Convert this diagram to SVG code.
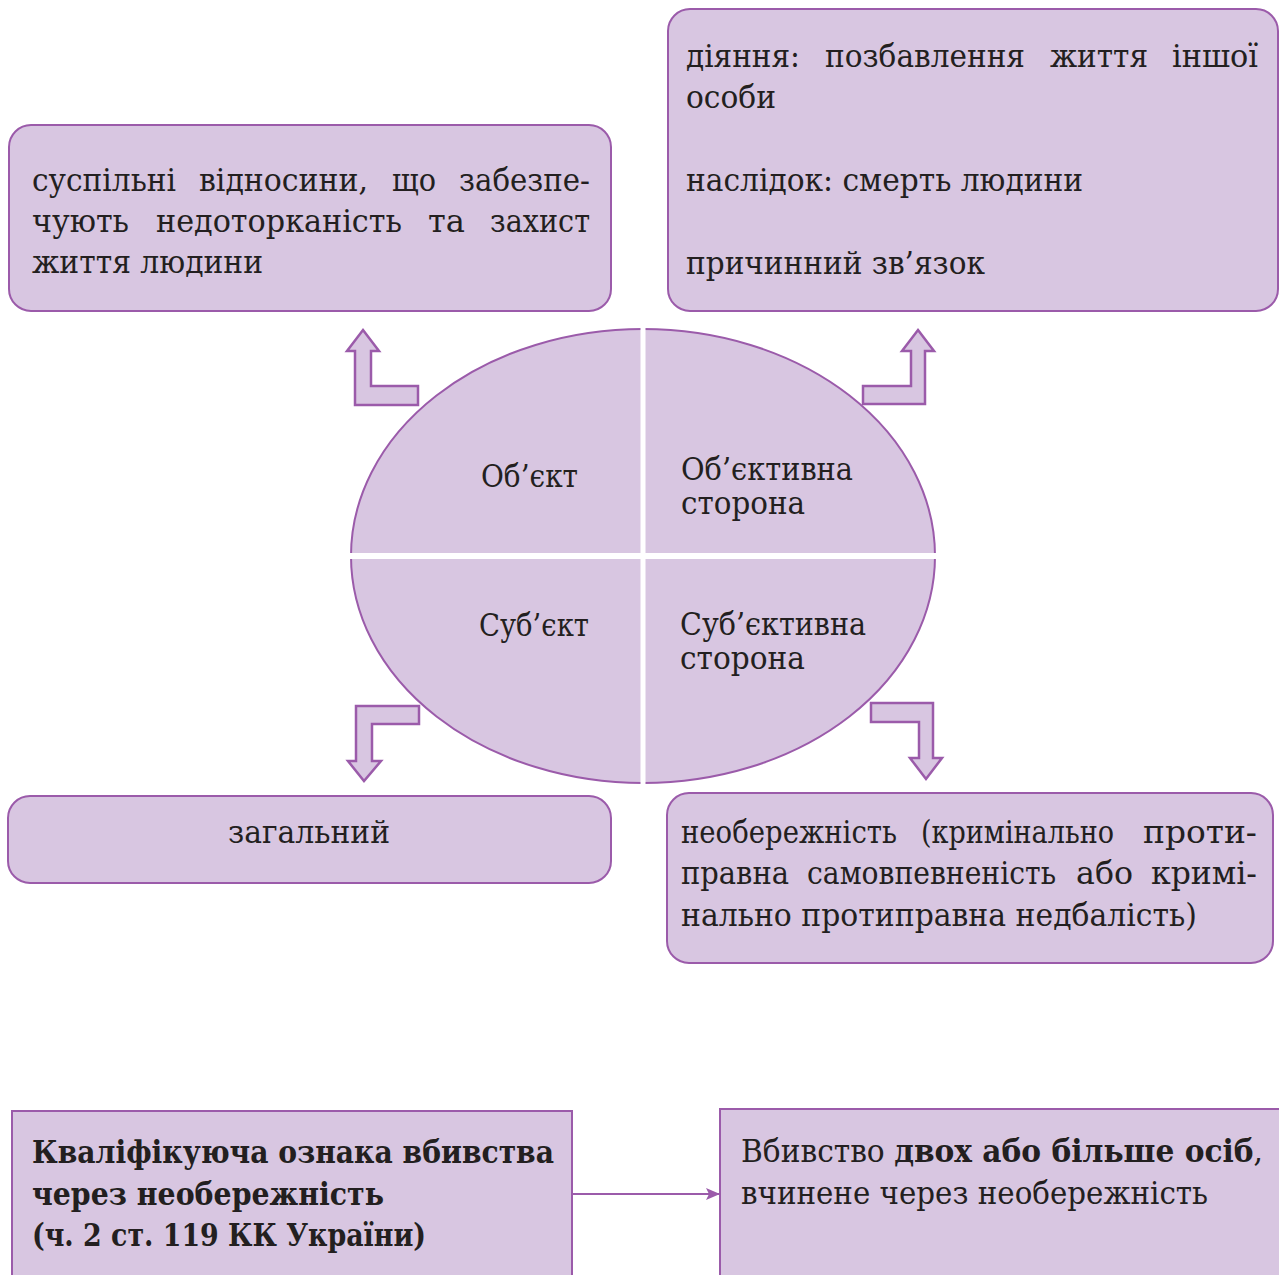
<svg xmlns="http://www.w3.org/2000/svg" width="1279" height="1275" viewBox="0 0 1279 1275">
<style>
.box{fill:#D8C6E1;stroke:#9B5BAA;stroke-width:2}
.t{font-family:"DejaVu Serif","Liberation Serif",serif;font-size:31px;fill:#231F20}
.b{font-weight:bold}
.arr{fill:#D8C6E1;stroke:#9B5BAA;stroke-width:2.5;stroke-linejoin:miter}
.con{stroke:#9B5BAA;stroke-width:2;fill:none}
</style>
<defs>
<marker id="ah" markerWidth="14" markerHeight="12" refX="13" refY="6" orient="auto" markerUnits="userSpaceOnUse">
<path d="M0,0 L14,6 L0,12 L3,6 Z" fill="#9B5BAA"/>
</marker>
</defs>
<rect width="1279" height="1275" fill="#FFFFFF"/>

<g id="ellipse">
<ellipse cx="643" cy="556" rx="292" ry="227" class="box"/>
<rect x="640.5" y="320" width="5" height="470" fill="#FFFFFF"/>
<rect x="340" y="553" width="606" height="6" fill="#FFFFFF"/>
</g>

<g id="q-object"><text class="t" x="481" y="487" textLength="97" lengthAdjust="spacingAndGlyphs">Об’єкт</text></g>
<g id="q-objside"><text class="t" x="681" y="480" textLength="172" lengthAdjust="spacingAndGlyphs">Об’єктивна</text><text class="t" x="681" y="514" textLength="124" lengthAdjust="spacingAndGlyphs">сторона</text></g>
<g id="q-subject"><text class="t" x="479" y="636" textLength="110" lengthAdjust="spacingAndGlyphs">Суб’єкт</text></g>
<g id="q-subjside"><text class="t" x="680" y="635" textLength="186" lengthAdjust="spacingAndGlyphs">Суб’єктивна</text><text class="t" x="680" y="669" textLength="125" lengthAdjust="spacingAndGlyphs">сторона</text></g>

<g id="box-object">
<rect x="9" y="125" width="602" height="186" rx="22" class="box"/>
<text class="t" y="191"><tspan x="32" textLength="144" lengthAdjust="spacingAndGlyphs">суспільні</tspan><tspan x="199" textLength="169" lengthAdjust="spacingAndGlyphs">відносини,</tspan><tspan x="392" textLength="44" lengthAdjust="spacingAndGlyphs">що</tspan><tspan x="459" textLength="131" lengthAdjust="spacingAndGlyphs">забезпе-</tspan></text>
<text class="t" y="232"><tspan x="32" textLength="97" lengthAdjust="spacingAndGlyphs">чують</tspan><tspan x="156" textLength="246" lengthAdjust="spacingAndGlyphs">недоторканість</tspan><tspan x="428" textLength="37" lengthAdjust="spacingAndGlyphs">та</tspan><tspan x="490" textLength="100" lengthAdjust="spacingAndGlyphs">захист</tspan></text>
<text class="t" x="32" y="273" textLength="231" lengthAdjust="spacingAndGlyphs">життя людини</text>
</g>

<g id="box-objside">
<rect x="668" y="9" width="610" height="302" rx="22" class="box"/>
<text class="t" y="67"><tspan x="686" textLength="114" lengthAdjust="spacingAndGlyphs">діяння:</tspan><tspan x="825" textLength="200" lengthAdjust="spacingAndGlyphs">позбавлення</tspan><tspan x="1050" textLength="98" lengthAdjust="spacingAndGlyphs">життя</tspan><tspan x="1172" textLength="86" lengthAdjust="spacingAndGlyphs">іншої</tspan></text>
<text class="t" x="686" y="108" textLength="90" lengthAdjust="spacingAndGlyphs">особи</text>
<text class="t" x="686" y="191" textLength="397" lengthAdjust="spacingAndGlyphs">наслідок: смерть людини</text>
<text class="t" x="686" y="274" textLength="299" lengthAdjust="spacingAndGlyphs">причинний зв’язок</text>
</g>

<g id="box-subject">
<rect x="8" y="796" width="603" height="87" rx="22" class="box"/>
<text class="t" x="228" y="843" textLength="162" lengthAdjust="spacingAndGlyphs">загальний</text>
</g>

<g id="box-subjside">
<rect x="667" y="793" width="606" height="170" rx="22" class="box"/>
<text class="t" y="843"><tspan x="681" textLength="216" lengthAdjust="spacingAndGlyphs">необережність</tspan><tspan x="921" textLength="193" lengthAdjust="spacingAndGlyphs">(кримінально</tspan><tspan x="1143" textLength="114" lengthAdjust="spacingAndGlyphs">проти-</tspan></text>
<text class="t" y="884"><tspan x="681" textLength="108" lengthAdjust="spacingAndGlyphs">правна</tspan><tspan x="807" textLength="249" lengthAdjust="spacingAndGlyphs">самовпевненість</tspan><tspan x="1076" textLength="57" lengthAdjust="spacingAndGlyphs">або</tspan><tspan x="1151" textLength="106" lengthAdjust="spacingAndGlyphs">кримі-</tspan></text>
<text class="t" x="681" y="926" textLength="516" lengthAdjust="spacingAndGlyphs">нально протиправна недбалість)</text>
</g>

<g id="box-qual">
<rect x="12" y="1111" width="560" height="180" class="box"/>
<text class="t b" x="32" y="1163" textLength="522" lengthAdjust="spacingAndGlyphs">Кваліфікуюча ознака вбивства</text>
<text class="t b" x="32" y="1205" textLength="352" lengthAdjust="spacingAndGlyphs">через необережність</text>
<text class="t b" x="32" y="1246" textLength="394" lengthAdjust="spacingAndGlyphs">(ч. 2 ст. 119 КК України)</text>
</g>

<g id="box-kill">
<rect x="720" y="1109" width="580" height="190" class="box"/>
<text class="t" x="741" y="1162" textLength="522" lengthAdjust="spacingAndGlyphs">Вбивство <tspan class="b">двох або більше осіб</tspan>,</text>
<text class="t" x="741" y="1204" textLength="467" lengthAdjust="spacingAndGlyphs">вчинене через необережність</text>
</g>

<g id="connectors">
<polygon class="arr" points="363,330 379,351 371,351 371,386 418,386 418,405 355,405 355,351 347,351"/>
<polygon class="arr" points="918,330 934,351 925,351 925,404 863,404 863,386 911,386 911,351 902,351"/>
<polygon class="arr" points="356,706 419,706 419,724 372,724 372,761 381,761 364,781 348,761 356,761"/>
<polygon class="arr" points="871,703 933,703 933,758 942,758 926,779 910,758 919,758 919,722 871,722"/>
<line class="con" x1="573" y1="1194" x2="719" y2="1194" marker-end="url(#ah)"/>
</g>
</svg>
